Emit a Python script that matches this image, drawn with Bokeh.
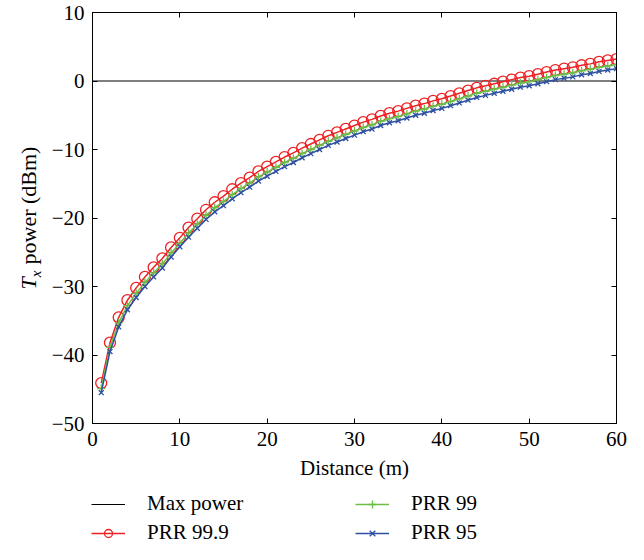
import math
from bokeh.plotting import figure
from bokeh.layouts import row, column
from bokeh.core.properties import value
from bokeh.models import Range1d, LinearAxis, FixedTicker, Legend, LegendItem
from bokeh.embed import file_html
from bokeh.resources import INLINE

# ---------------- data ----------------
distance = list(range(1, 61))
prr_999 = [-44.1, -38.2, -34.5, -32.0, -30.2, -28.6, -27.2, -25.9, -24.3, -22.9,
           -21.4, -20.1, -18.8, -17.7, -16.8, -15.8, -14.9, -14.1, -13.2, -12.5,
           -11.8, -11.1, -10.5, -9.8, -9.2, -8.6, -8.0, -7.5, -7.0, -6.5,
           -6.0, -5.6, -5.1, -4.7, -4.4, -4.0, -3.6, -3.3, -2.9, -2.6,
           -2.2, -1.8, -1.4, -1.0, -0.7, -0.4, -0.1, 0.2, 0.5, 0.7,
           1.0, 1.3, 1.6, 1.8, 2.0, 2.3, 2.5, 2.8, 3.0, 3.2]
prr_99 = [-44.9, -38.9, -35.3, -32.8, -31.0, -29.4, -28.0, -26.7, -25.1, -23.7,
          -22.2, -20.9, -19.6, -18.5, -17.6, -16.6, -15.7, -14.9, -14.0, -13.3,
          -12.6, -11.9, -11.3, -10.6, -10.0, -9.4, -8.8, -8.3, -7.8, -7.3,
          -6.8, -6.4, -5.9, -5.5, -5.2, -4.8, -4.4, -4.1, -3.7, -3.4,
          -3.0, -2.6, -2.2, -1.8, -1.5, -1.2, -0.9, -0.6, -0.3, -0.1,
          0.2, 0.5, 0.8, 1.0, 1.2, 1.5, 1.7, 2.0, 2.2, 2.4]
prr_95 = [-45.5, -39.5, -35.9, -33.4, -31.6, -30.0, -28.6, -27.3, -25.7, -24.2,
          -22.8, -21.5, -20.2, -19.1, -18.2, -17.2, -16.3, -15.5, -14.6, -13.9,
          -13.2, -12.5, -11.9, -11.2, -10.6, -10.0, -9.4, -8.9, -8.4, -7.9,
          -7.4, -7.0, -6.5, -6.1, -5.8, -5.4, -5.0, -4.7, -4.3, -4.0,
          -3.6, -3.2, -2.8, -2.4, -2.1, -1.8, -1.5, -1.2, -0.9, -0.7,
          -0.4, -0.1, 0.2, 0.4, 0.6, 0.9, 1.1, 1.4, 1.6, 1.8]
max_power_x = [0, 60]
max_power_y = [0, 0]

x_ticks = [0, 10, 20, 30, 40, 50, 60]
x_tick_labels = ["0", "10", "20", "30", "40", "50", "60"]
y_ticks = [-50, -40, -30, -20, -10, 0, 10]
y_tick_labels = ["\u221250", "\u221240", "\u221230", "\u221220", "\u221210", "0", "10"]
series_names = ["Max power", "PRR 99.9", "PRR 99", "PRR 95"]
y_label_parts = ["T", "x", "power (dBm)"]

# ---------------- styling ----------------
FONT = "Liberation Serif"
FS = "21px"
RED = "#ED2024"
GREEN = "#6ABE45"
BLUE = "#2E50A2"

TOTAL_W, TOTAL_H = 628, 544
H = 487            # main plot height
LW = 48            # width of the y-label strip
W = TOTAL_W - LW
LEG_H = TOTAL_H - H
BL, BR, BT, BB = 91 - LW, 12, 12, 64

p = figure(width=W, height=H, output_backend="svg", toolbar_location=None,
           x_range=Range1d(0, 60), y_range=Range1d(-50, 10),
           min_border_left=BL, min_border_right=BR, min_border_top=BT,
           min_border_bottom=BB, x_axis_label="Distance (m)")
p.grid.visible = False
p.outline_line_color = "black"
p.outline_line_width = 1
p.background_fill_color = "white"
p.border_fill_color = "white"


def style_axis(ax, show_labels=True):
    ax.major_tick_in = 5
    ax.major_tick_out = 0
    ax.minor_tick_in = 0
    ax.minor_tick_out = 0
    ax.axis_line_color = "black"
    ax.major_tick_line_color = "black"
    ax.major_label_text_font = FONT
    ax.major_label_text_color = "black"
    if show_labels:
        ax.major_label_text_font_size = FS
        ax.major_label_standoff = 6
    else:
        ax.major_label_text_font_size = "0px"
        ax.major_label_standoff = 0


xb = p.xaxis[0]
xb.ticker = FixedTicker(ticks=x_ticks)
xb.major_label_overrides = {t: s for t, s in zip(x_ticks, x_tick_labels)}
style_axis(xb)
xb.major_label_standoff = 8
xb.axis_label_text_font = FONT
xb.axis_label_text_font_size = FS
xb.axis_label_text_font_style = "normal"
xb.axis_label_text_color = "black"
xb.axis_label_standoff = 7

yl = p.yaxis[0]
yl.ticker = FixedTicker(ticks=y_ticks)
yl.major_label_overrides = {t: s for t, s in zip(y_ticks, y_tick_labels)}
style_axis(yl)
yl.major_label_standoff = 8

top = LinearAxis(ticker=FixedTicker(ticks=x_ticks),
                 major_label_overrides={t: "" for t in x_ticks})
style_axis(top, False)
p.add_layout(top, "above")
right = LinearAxis(ticker=FixedTicker(ticks=y_ticks),
                   major_label_overrides={t: "" for t in y_ticks})
style_axis(right, False)
p.add_layout(right, "right")

# ---------------- glyphs ----------------
line_styles = [dict(line_color="black", line_width=1.2),
               dict(line_color=RED, line_width=1.5),
               dict(line_color=GREEN, line_width=1.5),
               dict(line_color=BLUE, line_width=1.5)]
marker_styles = [None,
                 dict(marker="circle", size=11, fill_color=None, line_color=RED, line_width=1.3),
                 dict(marker="cross", size=8, line_color=GREEN, line_width=1.3),
                 dict(marker="x", size=7, line_color=BLUE, line_width=1.3)]
legend_marker_sizes = [None, 7, 7, 6]
series_x = [max_power_x, distance, distance, distance]
series_y = [max_power_y, prr_999, prr_99, prr_95]

for xs, ys, ls, ms in zip(series_x, series_y, line_styles, marker_styles):
    p.line(xs, ys, **ls)
    if ms is not None:
        p.scatter(xs, ys, **ms)

# ---------------- y-axis label strip (italic T with subscript x) ----------------
# the row aligns this strip's frame with the main frame vertically, so its
# y range is set to the pixel span (from the canvas bottom) of that frame
q = figure(width=LW, height=H, output_backend="svg", toolbar_location=None,
           x_range=Range1d(0, LW), y_range=Range1d(BB, H - BT),
           x_axis_location=None, y_axis_location=None, min_border=0)
q.grid.visible = False
q.outline_line_color = None
q.background_fill_color = "white"
q.border_fill_color = "white"

YFS, SFS = 22, 15
center = BB + (H - BT - BB) / 2       # frame centre, measured from the bottom
w_T, w_x, gap, w_rest = 0.556 * YFS, 0.444 * SFS, 6.0, 5.36 * YFS
total = w_T + w_x + gap + w_rest
start = center - total / 2
base_main = 35     # x of the main baseline
base_sub = 41      # x of the subscript baseline
q.text(x=[base_main - 0.3375 * YFS], y=[start + w_T / 2], text=[y_label_parts[0]],
       angle=math.pi / 2, text_align="center", text_baseline="middle",
       text_font=value(FONT), text_font_size=value(f"{YFS}px"),
       text_font_style="italic", text_color="black")
q.text(x=[base_sub - 0.3375 * SFS], y=[start + w_T + w_x / 2], text=[y_label_parts[1]],
       angle=math.pi / 2, text_align="center", text_baseline="middle",
       text_font=value(FONT), text_font_size=value(f"{SFS}px"),
       text_font_style="italic", text_color="black")
q.text(x=[base_main - 0.3375 * YFS], y=[start + w_T + w_x + gap + w_rest / 2],
       text=[y_label_parts[2]], angle=math.pi / 2, text_align="center",
       text_baseline="middle", text_font=value(FONT),
       text_font_size=value(f"{YFS}px"), text_color="black")

# ---------------- legend strip ----------------
# the series are drawn here too, but far outside this strip's ranges, so only
# the legend entries show
lf = figure(width=TOTAL_W, height=LEG_H, output_backend="svg", toolbar_location=None,
            x_range=Range1d(1000, 1001), y_range=Range1d(1000, 1001),
            x_axis_location=None, y_axis_location=None, min_border=0)
lf.grid.visible = False
lf.outline_line_color = None
lf.background_fill_color = "white"
lf.border_fill_color = "white"

items = []
for name, xs, ys, ls, ms, msz in zip(series_names, series_x, series_y, line_styles,
                                     marker_styles, legend_marker_sizes):
    rs = [lf.line(xs, ys, **ls)]
    if ms is not None:
        ms2 = dict(ms)
        ms2["size"] = msz
        rs.append(lf.scatter(xs, ys, **ms2))
    items.append(LegendItem(label=name, renderers=rs))

legend = Legend(items=items, location=(91, -1), orientation="vertical", nrows=2)
legend.label_text_font = FONT
legend.label_text_font_size = FS
legend.label_text_color = "black"
legend.glyph_width = 34
legend.glyph_height = 20
legend.label_height = 20
legend.label_standoff = 22
legend.label_width = 204
legend.spacing = 4
legend.padding = 0
legend.margin = 0
legend.border_line_color = None
legend.background_fill_alpha = 0
lf.add_layout(legend)

layout = column(row(q, p), lf)
open("out.html", "w").write(file_html(layout, INLINE))
